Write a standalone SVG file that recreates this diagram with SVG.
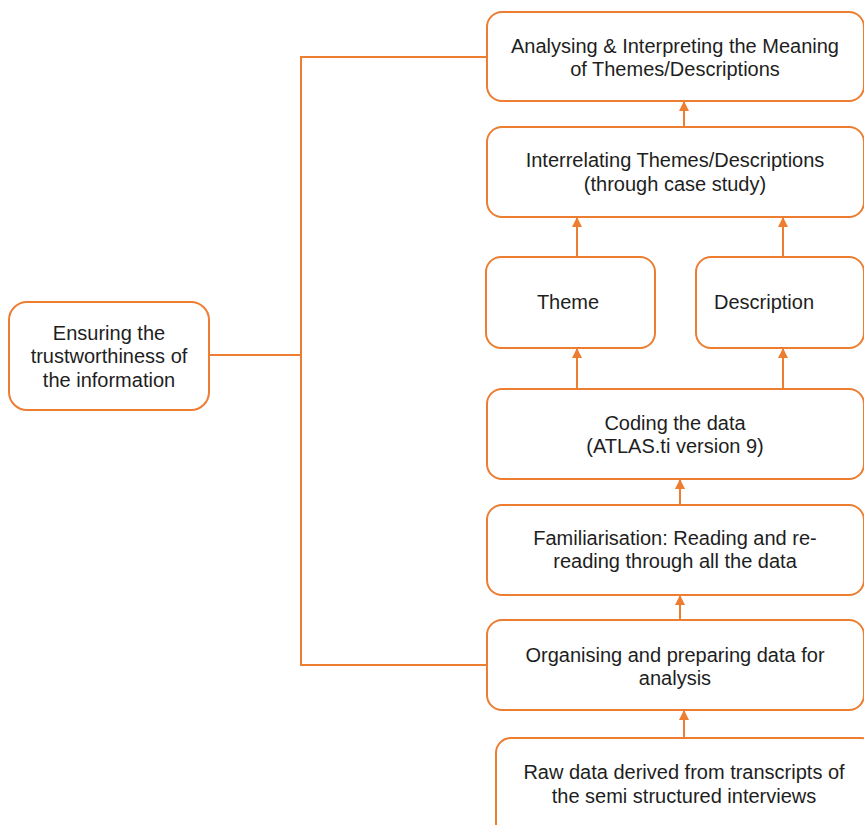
<svg xmlns="http://www.w3.org/2000/svg" width="864" height="825" viewBox="0 0 864 825">
  <style>
    .box { fill: #ffffff; stroke: #ED7D31; stroke-width: 2; }
    .lbl { font-family: "Liberation Sans", Arial, sans-serif; font-size: 20px; fill: #1e1e1e; text-anchor: middle; }
    .wire { fill: none; stroke: #ED7D31; stroke-width: 2; }
    .flow { fill: none; stroke: #ED7D31; stroke-width: 2; marker-end: url(#head); }
  </style>
  <defs>
    <marker id="head" viewBox="0 0 10 10" refX="9" refY="5" markerWidth="5" markerHeight="5" orient="auto" markerUnits="strokeWidth">
      <path d="M0,0 L10,5 L0,10 Z" fill="#ED7D31"/>
    </marker>
  </defs>
  <rect width="864" height="825" fill="#ffffff"/>

  <g id="connectors">
    <path class="wire" d="M487,57 H301 V665 H487"/>
    <path class="wire" d="M209,355 H301"/>
    <path class="flow" d="M684,127 V102"/>
    <path class="flow" d="M577,257 V218"/>
    <path class="flow" d="M783,257 V218"/>
    <path class="flow" d="M577,389 V349"/>
    <path class="flow" d="M783,389 V349"/>
    <path class="flow" d="M680,505 V480"/>
    <path class="flow" d="M680,620 V596"/>
    <path class="flow" d="M684,738 V711"/>
  </g>

  <g id="analysing">
    <rect class="box" x="487" y="12" width="377" height="89" rx="15"/>
    <text class="lbl" x="675" y="53">Analysing &amp; Interpreting the Meaning</text>
    <text class="lbl" x="675" y="76">of Themes/Descriptions</text>
  </g>
  <g id="interrelating">
    <rect class="box" x="487" y="127" width="377" height="90" rx="15"/>
    <text class="lbl" x="675" y="167">Interrelating Themes/Descriptions</text>
    <text class="lbl" x="675" y="191">(through case study)</text>
  </g>
  <g id="theme">
    <rect class="box" x="486" y="257" width="169" height="91" rx="15"/>
    <text class="lbl" x="568" y="309">Theme</text>
  </g>
  <g id="description">
    <rect class="box" x="696" y="257" width="168" height="91" rx="15"/>
    <text class="lbl" x="764" y="309">Description</text>
  </g>
  <g id="coding">
    <rect class="box" x="487" y="389" width="377" height="90" rx="15"/>
    <text class="lbl" x="675" y="430">Coding the data</text>
    <text class="lbl" x="675" y="453">(ATLAS.ti version 9)</text>
  </g>
  <g id="familiarisation">
    <rect class="box" x="487" y="505" width="377" height="90" rx="15"/>
    <text class="lbl" x="675" y="545">Familiarisation: Reading and re-</text>
    <text class="lbl" x="675" y="568">reading through all the data</text>
  </g>
  <g id="organising">
    <rect class="box" x="487" y="620" width="377" height="90" rx="15"/>
    <text class="lbl" x="675" y="662">Organising and preparing data for</text>
    <text class="lbl" x="675" y="685">analysis</text>
  </g>
  <g id="raw-data">
    <rect class="box" x="496" y="738" width="380" height="100" rx="15"/>
    <text class="lbl" x="684" y="779">Raw data derived from transcripts of</text>
    <text class="lbl" x="684" y="803">the semi structured interviews</text>
  </g>
  <g id="trustworthiness">
    <rect class="box" x="9" y="302" width="200" height="108" rx="18"/>
    <text class="lbl" x="109" y="340">Ensuring the</text>
    <text class="lbl" x="109" y="363">trustworthiness of</text>
    <text class="lbl" x="109" y="387">the information</text>
  </g>
</svg>
